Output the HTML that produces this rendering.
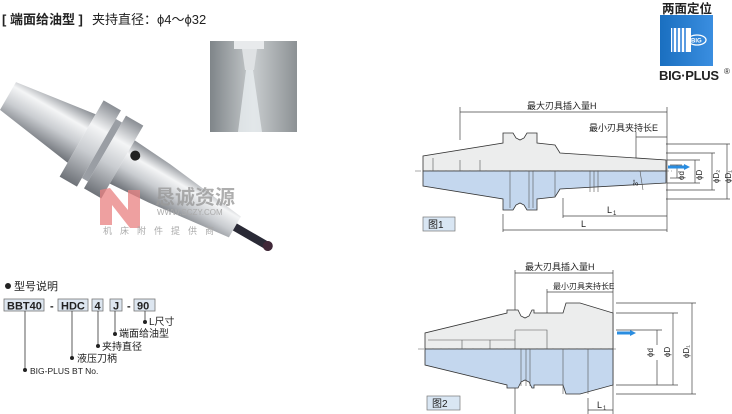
<!DOCTYPE html>
<html><head><meta charset="utf-8"><style>
html,body{margin:0;padding:0;background:#fff}
svg{display:block}
text{font-family:"Liberation Sans","Noto Sans CJK SC",sans-serif;fill:#222}
</style></head><body>
<svg width="732" height="414" viewBox="0 0 732 414" xmlns="http://www.w3.org/2000/svg">
<defs>
<linearGradient id="met" x1="0" y1="0" x2="0" y2="1">
<stop offset="0" stop-color="#8a8e94"/><stop offset="0.3" stop-color="#f4f5f6"/><stop offset="0.6" stop-color="#c9ccd0"/><stop offset="1" stop-color="#6e7278"/></linearGradient>
<linearGradient id="ph" x1="0" y1="0" x2="1" y2="0">
<stop offset="0" stop-color="#7f8589"/><stop offset="0.5" stop-color="#c8ccce"/><stop offset="1" stop-color="#8c9194"/></linearGradient>
<linearGradient id="logo" x1="0" y1="0" x2="1" y2="0">
<stop offset="0" stop-color="#1a6fc0"/><stop offset="1" stop-color="#3a8ee0"/></linearGradient>
</defs>

<text x="2" y="24" font-size="13" font-weight="bold">[ 端面给油型 ]</text>
<text x="92" y="24" font-size="13">夹持直径：ϕ4～ϕ32</text>

<rect x="210" y="41" width="87" height="91" fill="url(#ph)"/>
<rect x="234" y="41" width="30" height="8" fill="#e8eaec"/>
<polygon points="242,49 257,49 254,70 245,70" fill="#dfe2e4"/>
<polygon points="246,70 253,70 262,132 238,132" fill="#e9eef0" opacity="0.8"/>

<g transform="translate(8,96) rotate(30)">
<polygon points="0,-16 85,-28 85,28 0,16" fill="url(#met)"/>
<rect x="85" y="-44" width="20" height="88" fill="url(#met)"/>
<rect x="105" y="-34" width="7" height="68" fill="#9a9ea4"/>
<rect x="112" y="-42" width="20" height="84" fill="url(#met)"/>
<polygon points="132,-25 175,-22 262,-12 262,12 175,22 132,25" fill="url(#met)"/>
<circle cx="140" cy="-12" r="5" fill="#222"/>
<rect x="262" y="-4" width="36" height="8" fill="#2a2a36"/>
<circle cx="300" cy="0" r="5" fill="#402838"/>
</g>
<path d="M100,190 L100,225 L112,225 L112,205 L130,228 L140,228 L140,190 L128,190 L128,210 L110,188 Z" fill="#e88080" opacity="0.75"/>
<text x="155" y="204" font-size="20" font-weight="bold" style="fill:#9a9a9a" opacity="0.8">恳诚资源</text>
<text x="157" y="215" font-size="8" style="fill:#aaa">WWW.SCZY.COM</text>
<text x="103" y="234" font-size="9" style="fill:#aaa" letter-spacing="8">机床附件提供商</text>

<circle cx="8" cy="286" r="3" fill="#222"/>
<text x="14" y="290" font-size="11">型号说明</text>
<g font-size="11" font-weight="bold">
<rect x="4" y="299" width="40" height="12" fill="#dde6f0" stroke="#777" stroke-width="0.8"/><text x="7" y="309.5">BBT40</text>
<text x="50" y="309.5">-</text>
<rect x="58" y="299" width="30" height="12" fill="#dde6f0" stroke="#777" stroke-width="0.8"/><text x="61" y="309.5">HDC</text>
<rect x="92" y="299" width="11" height="12" fill="#dde6f0" stroke="#777" stroke-width="0.8"/><text x="94.5" y="309.5">4</text>
<rect x="110" y="299" width="12" height="12" fill="#dde6f0" stroke="#777" stroke-width="0.8"/><text x="113" y="309.5">J</text>
<text x="127" y="309.5">-</text>
<rect x="134" y="299" width="21" height="12" fill="#dde6f0" stroke="#777" stroke-width="0.8"/><text x="137" y="309.5">90</text>
</g>
<g stroke="#333" stroke-width="0.8" fill="none">
<path d="M145,311 V322"/><path d="M115,311 V334"/><path d="M98,311 V346"/><path d="M72,311 V358"/><path d="M25,311 V370"/>
</g>
<g fill="#222"><circle cx="145" cy="322" r="2"/><circle cx="115" cy="334" r="2"/><circle cx="98" cy="346" r="2"/><circle cx="72" cy="358" r="2"/><circle cx="25" cy="370" r="2"/></g>
<g font-size="10">
<text x="149" y="325">L尺寸</text>
<text x="119" y="337">端面给油型</text>
<text x="102" y="350">夹持直径</text>
<text x="77" y="362">液压刀柄</text>
<text x="30" y="374" font-size="8.5">BIG-PLUS BT No.</text>
</g>

<text x="662" y="13" font-size="12.5" font-weight="bold">两面定位</text>
<rect x="660" y="15" width="53" height="51" fill="url(#logo)"/>
<rect x="671" y="28" width="20" height="24" fill="#fff"/>
<g fill="#5b9be0"><rect x="672" y="28" width="2" height="24"/><rect x="676" y="28" width="2" height="24"/><rect x="680" y="28" width="2" height="24"/><rect x="684" y="28" width="2" height="24"/></g>
<ellipse cx="697" cy="40" rx="9" ry="5" fill="none" stroke="#fff" stroke-width="1.3"/>
<text x="691" y="42.5" font-size="6" font-weight="bold" style="fill:#fff">BIG</text>
<text x="659" y="80" font-size="13" font-weight="bold" letter-spacing="-0.3">BIG·PLUS</text>
<text x="724" y="74" font-size="8">®</text>

<!-- FIG 1 -->
<g stroke="#444" stroke-width="0.7" fill="none">
<path d="M460,107 V140"/><path d="M667,107 V232"/>
<path d="M460,112 H667"/>
<path d="M636,132 V171"/><path d="M636,137 H667"/>
<path d="M503,214 V232"/><path d="M503,230 H667"/>
<path d="M563,198 V218"/><path d="M563,216 H667"/>
<path d="M667,160 H700"/><path d="M667,183 H700"/>
<path d="M670,165 H682"/><path d="M670,178 H682"/>
<path d="M677,165 V178"/><path d="M695,160 V183"/>
<path d="M666,153 H715"/><path d="M666,190 H715"/><path d="M712,153 V190"/>
<path d="M666,144 H730"/><path d="M666,199 H730"/><path d="M727,144 V199"/>
</g>
<polygon points="423,171 423,156 503,143 503,133 513,133 516,138 520,140 524,138 527,133 537,133 537,143 555,145 560,153 666,160 666,171" fill="#eceded" stroke="#333" stroke-width="0.8"/>
<polygon points="423,171 423,186 503,199 503,210 513,210 516,205 520,203 524,205 527,210 537,210 537,199 555,197 560,189 666,183 666,171" fill="#c4d7ee" stroke="#333" stroke-width="0.8"/>
<g stroke="#555" stroke-width="0.6" fill="none">
<path d="M433,158 V171 M460,160 V171 M480,160 V171"/>
<path d="M510,171 V208 M529,171 V208 M533,171 V208 M555,171 V197 M590,171 V192 M594,171 V192 M598,171 V192"/>
<path d="M415,171 H672" stroke-dasharray="6,2"/>
<path d="M640,171 L643,190"/>
</g>
<path d="M668,167 H684" stroke="#2a8de0" stroke-width="3"/><polygon points="684,164 690,167 684,170" fill="#2a8de0"/>
<g font-size="9">
<text x="527" y="109">最大刃具插入量H</text>
<text x="589" y="131">最小刃具夹持长E</text>
<text x="607" y="213">L</text><text x="613" y="215" font-size="6">1</text>
<text x="581" y="227">L</text>
<text x="638" y="186" font-size="7" transform="rotate(-90 638 186)">3°</text>
<text x="684" y="180" font-size="8" transform="rotate(-90 684 180)">ϕd</text>
<text x="702" y="180" font-size="8" transform="rotate(-90 702 180)">ϕD</text>
<text x="719" y="183" font-size="8" transform="rotate(-90 719 183)">ϕD₂</text>
<text x="731" y="183" font-size="8" transform="rotate(-90 731 183)">ϕD₁</text>
</g>
<rect x="423" y="217" width="32" height="14" fill="#d9e6f3" stroke="#777" stroke-width="0.7"/>
<text x="428" y="228" font-size="10">图1</text>

<!-- FIG 2 -->
<g stroke="#444" stroke-width="0.7" fill="none">
<path d="M515,270 V414"/><path d="M613,270 V414"/><path d="M515,273 H613"/>
<path d="M547,289 V330"/><path d="M547,292 H613"/>
<path d="M588,398 V414"/><path d="M588,410 H613"/>
<path d="M616,330 H662"/><path d="M616,385 H678"/><path d="M616,313 H678"/><path d="M616,303 H696"/><path d="M616,394 H696"/>
<path d="M657,330 V345 M657,360 V385"/>
<path d="M673,313 V385"/><path d="M692,303 V394"/>
</g>
<polygon points="425,349 425,333 507,313 507,310 518,310 521,316 525,318 529,316 532,310 534,310 534,313 563,313 566,303 580,303 613,313 613,349" fill="#eceded" stroke="#333" stroke-width="0.8"/>
<polygon points="425,349 425,365 507,385 507,388 518,388 521,382 525,380 529,382 532,388 534,388 534,385 563,385 566,394 580,394 613,385 613,349" fill="#c4d7ee" stroke="#333" stroke-width="0.8"/>
<g stroke="#555" stroke-width="0.6" fill="none">
<path d="M428,340 H515 M462,340 V349 M490,340 V349 M515,330 H547 V349 M515,330 V349"/>
<path d="M521,349 V386 M526,349 V386 M530,349 V386 M563,349 V394 M588,349 V394"/>
<path d="M418,349 H618" stroke-dasharray="6,2"/>
</g>
<path d="M617,333 H630" stroke="#2a8de0" stroke-width="3"/><polygon points="630,330 636,333 630,336" fill="#2a8de0"/>
<g font-size="9">
<text x="525" y="270">最大刃具插入量H</text>
<text x="553" y="289" font-size="8">最小刃具夹持长E</text>
<text x="597" y="408">L</text><text x="603" y="410" font-size="6">1</text>
<text x="653" y="357" font-size="8" transform="rotate(-90 653 357)">ϕd</text>
<text x="670" y="357" font-size="8" transform="rotate(-90 670 357)">ϕD</text>
<text x="689" y="358" font-size="8" transform="rotate(-90 689 358)">ϕD₁</text>
</g>
<rect x="427" y="396" width="33" height="14" fill="#d9e6f3" stroke="#777" stroke-width="0.7"/>
<text x="432" y="407" font-size="10">图2</text>
</svg>
</body></html>
